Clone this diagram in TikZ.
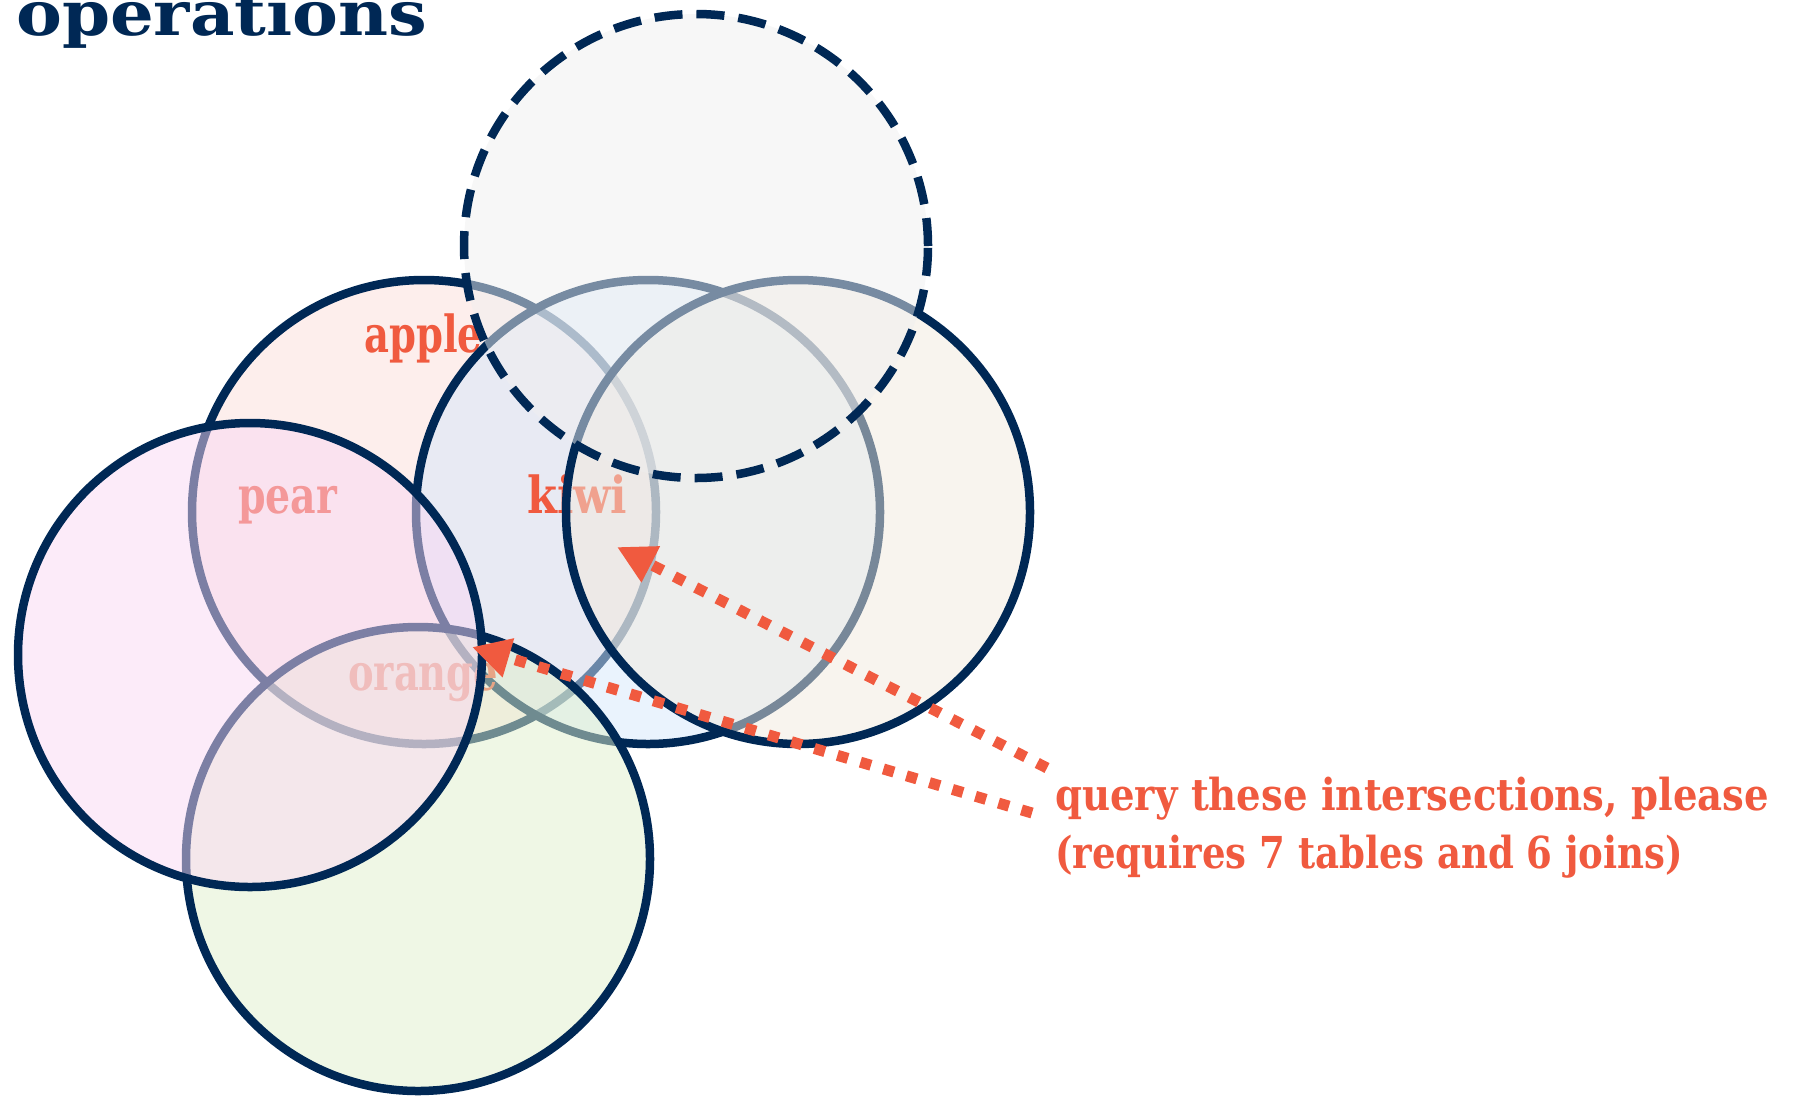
\documentclass[tikz,border=0pt]{standalone}
\usepackage{fontspec}
\setmainfont{DejaVu Serif}
\usepackage{graphicx}
\usetikzlibrary{arrows.meta}
\definecolor{navy}{HTML}{002855}
\definecolor{tomato}{HTML}{F05A3F}
\definecolor{appleF}{RGB}{251,221,217}
\definecolor{kiwiF}{RGB}{213,231,251}
\definecolor{rightF}{RGB}{241,233,221}
\definecolor{dashF}{RGB}{239,239,239}
\definecolor{pearF}{RGB}{249,215,243}
\definecolor{greenF}{RGB}{223,239,203}
\begin{document}
\begin{tikzpicture}[x=1pt,y=-1pt,
  setc/.style={draw=navy, line width=8.5pt, fill opacity=0.5},
  lbl/.style={text=tomato, inner sep=0pt, anchor=base west},
  callout/.style={draw=tomato, line width=11pt, dash pattern=on 11pt off 13pt,
    -{Triangle[length=38pt,width=38pt]}}]
\clip (0,0) rectangle (1795,1098);
% apple
\draw[setc, fill=appleF] (424,512) circle[radius=232pt];
\node[lbl] (apple) at (364,352) {\resizebox{118pt}{\height}{\fontsize{51}{51}\selectfont\bfseries apple}};
% kiwi
\draw[setc, fill=kiwiF] (648,512) circle[radius=232pt];
\node[lbl] (kiwi) at (527,513) {\resizebox{100pt}{\height}{\fontsize{51}{51}\selectfont\bfseries kiwi}};
% right
\draw[setc, fill=rightF] (798,512) circle[radius=232pt];
% dashed
\draw[setc, fill=dashF, dash pattern=on 28pt off 14pt] (696,246) circle[radius=232pt];
% pear and orange labels
\node[lbl] (pear) at (238,513) {\resizebox{99pt}{\height}{\fontsize{51}{51}\selectfont\bfseries pear}};
\node[lbl] (orange) at (348,690) {\resizebox{150pt}{\height}{\fontsize{51}{51}\selectfont\bfseries orange}};
% green
\draw[setc, fill=greenF] (418,859) circle[radius=232pt];
% pear circle
\draw[setc, fill=pearF] (250,655) circle[radius=232pt];
% annotation
\node[lbl] (q1) at (1055,810) {\resizebox{714pt}{\height}{\fontsize{44}{44}\selectfont\bfseries query these intersections, please}};
\node[lbl] (q2) at (1055,868) {\resizebox{628pt}{\height}{\fontsize{44}{44}\selectfont\bfseries (requires 7 tables and 6 joins)}};
\coordinate (t1) at (617,547);
\coordinate (s1) at (1047,768);
\coordinate (t2) at (472,647);
\coordinate (s2) at (1032,813);
\draw[callout] (s1) -- (t1);
\draw[callout] (s2) -- (t2);
% title
\node[anchor=base west, inner sep=0pt, text=navy] (title) at (16,35) {\resizebox{411pt}{\height}{\fontsize{62}{62}\selectfont\bfseries operations}};
\end{tikzpicture}
\end{document}
